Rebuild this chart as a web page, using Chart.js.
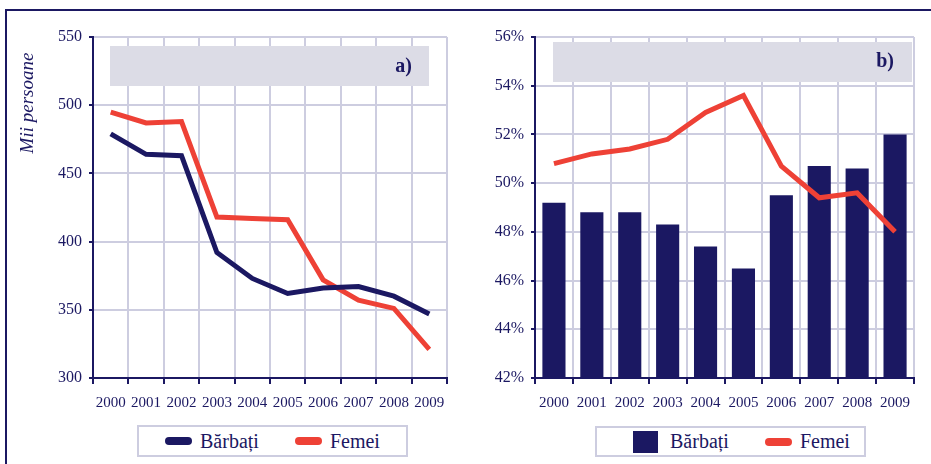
<!DOCTYPE html>
<html>
<head>
<meta charset="utf-8">
<script src="https://cdn.jsdelivr.net/npm/chart.js@4/dist/chart.umd.min.js"></script>
<style>
    body { margin: 0; background: #fff; width: 931px; height: 464px; overflow: hidden; position: relative; }
    .frame { position: absolute; left: 5px; top: 9px; right: 0; bottom: 0; border-top: 2px solid #1b1862; border-left: 2px solid #1b1862; }
    canvas { position: absolute; top: 0; }
    #chart-a { left: 0; }
    #chart-b { left: 465px; }
    .legend {
        position: absolute; box-sizing: border-box; border: 2px solid #cdcde0;
        display: flex; align-items: center;
        font: 20px "Liberation Serif", "DejaVu Serif", serif; color: #1b1862;
    }
    .legend-item { display: flex; align-items: center; margin-right: 36px; }
    .swatch-line { width: 27px; height: 8px; border-radius: 4px; margin-right: 8px; }
    .swatch-box { width: 25px; height: 22px; margin-right: 12px; }
    #legend-a { left: 137px; top: 425px; width: 271px; height: 32px; padding-left: 26px; }
    #legend-b { left: 595px; top: 426px; width: 271px; height: 31px; padding-left: 36px; }
</style>
</head>
<body>
<div class="frame"></div>
<canvas id="chart-a" width="465" height="420"></canvas>
<canvas id="chart-b" width="466" height="420"></canvas>
<div class="legend" id="legend-a"></div>
<div class="legend" id="legend-b"></div>
<script>
/* Ocupare 2000-2009: a) mii persoane, b) pondere pe sexe */

const years = ['2000', '2001', '2002', '2003', '2004', '2005', '2006', '2007', '2008', '2009'];

// a) Mii persoane
const menCount   = [479, 464, 463, 392, 373, 362, 366, 367, 360, 347];
const womenCount = [495, 487, 488, 418, 417, 416, 372, 357, 351, 321];
const countTicks = { min: 300, max: 550, step: 50 };

// b) procente
const menShare   = [49.2, 48.8, 48.8, 48.3, 47.4, 46.5, 49.5, 50.7, 50.6, 52.0];
const womenShare = [50.8, 51.2, 51.4, 51.8, 52.9, 53.6, 50.7, 49.4, 49.6, 48.0];
const shareTicks = { min: 42, max: 56, step: 2 };

const seriesNames = ['Bărbați', 'Femei'];
const yTitle = 'Mii persoane';

const NAVY = '#1b1862';
const RED = '#ee4136';
const GRID = '#cdcde0';
const BAND = '#dcdce6';
const NONE = 'rgba(0,0,0,0)';
const FONT = '"Liberation Serif", "DejaVu Serif", serif';

Chart.defaults.font.family = FONT;
Chart.defaults.color = NAVY;

// grey band with the panel letter + optional rotated axis title
const panelPlugin = {
    id: 'panel',
    beforeDatasetsDraw(chart, args, opts) {
        const a = chart.chartArea;
        const ctx = chart.ctx;
        ctx.save();
        ctx.fillStyle = BAND;
        ctx.fillRect(a.left + opts.band[0], a.top + opts.band[1], opts.band[2], opts.band[3]);
        ctx.fillStyle = NAVY;
        ctx.font = 'bold 20px ' + FONT;
        ctx.textAlign = 'right';
        ctx.textBaseline = 'middle';
        ctx.fillText(opts.letter, a.right - opts.letterRight, a.top + opts.letterY);
        ctx.restore();
    },
    afterDraw(chart, args, opts) {
        if (!opts.title) return;
        const a = chart.chartArea;
        const ctx = chart.ctx;
        ctx.save();
        ctx.translate(a.left - 65, a.top + 66);
        ctx.rotate(-Math.PI / 2);
        ctx.fillStyle = NAVY;
        ctx.font = 'italic 19px ' + FONT;
        ctx.textAlign = 'center';
        ctx.textBaseline = 'middle';
        ctx.fillText(opts.title, 0, 0);
        ctx.restore();
    }
};

function xScale(height, pad) {
    return {
        offset: true,
        grid: {
            offset: true,
            color: c => c.index === 0 ? NONE : GRID,
            lineWidth: 2,
            tickColor: NAVY,
            tickLength: 6,
            tickWidth: 2,
        },
        border: { color: NAVY, width: 2 },
        ticks: { font: { size: 15 }, padding: pad, maxRotation: 0, autoSkip: false },
        afterFit: s => { s.height = height; },
    };
}

function yScale(t, width, fmt) {
    return {
        min: t.min,
        max: t.max,
        grid: {
            color: c => c.tick && c.tick.value === t.min ? NONE : GRID,
            lineWidth: 2,
            tickColor: NAVY,
            tickLength: 4,
            tickWidth: 2,
        },
        border: { color: NAVY, width: 2 },
        ticks: { stepSize: t.step, font: { size: 16 }, padding: 7, callback: fmt },
        afterFit: s => { s.width = width; },
    };
}

const chartA = new Chart(document.getElementById('chart-a'), {
    type: 'line',
    data: {
        labels: years,
        datasets: [
            { label: seriesNames[0], data: menCount, borderColor: NAVY, backgroundColor: NAVY, borderWidth: 5, pointRadius: 0, tension: 0 },
            { label: seriesNames[1], data: womenCount, borderColor: RED, backgroundColor: RED, borderWidth: 5, pointRadius: 0, tension: 0 },
        ],
    },
    options: {
        responsive: false,
        animation: false,
        layout: { padding: { top: 37, right: 18, left: 0, bottom: 0 } },
        plugins: {
            legend: { display: false },
            tooltip: { enabled: false },
            panel: { band: [17, 9, 319, 40], letter: 'a)', letterRight: 35, letterY: 30, title: yTitle },
        },
        scales: {
            x: xScale(42, 10),
            y: yScale(countTicks, 93, v => v),
        },
    },
    plugins: [panelPlugin],
});

const chartB = new Chart(document.getElementById('chart-b'), {
    type: 'bar',
    data: {
        labels: years,
        datasets: [
            { type: 'bar', label: seriesNames[0], data: menShare, backgroundColor: NAVY, barPercentage: 0.61, categoryPercentage: 1, order: 2 },
            { type: 'line', label: seriesNames[1], data: womenShare, borderColor: RED, backgroundColor: RED, borderWidth: 5, pointRadius: 0, tension: 0, order: 1 },
        ],
    },
    options: {
        responsive: false,
        animation: false,
        layout: { padding: { top: 37, right: 17, left: 0, bottom: 0 } },
        plugins: {
            legend: { display: false },
            tooltip: { enabled: false },
            panel: { band: [18, 5, 359, 40], letter: 'b)', letterRight: 20, letterY: 25 },
        },
        scales: {
            x: xScale(42, 10),
            y: yScale(shareTicks, 70, v => v + '%'),
        },
    },
    plugins: [panelPlugin],
});

function renderLegend(chart, elId) {
    const el = document.getElementById(elId);
    el.innerHTML = '';
    chart.data.datasets.forEach(ds => {
        const isBar = (ds.type || chart.config.type) === 'bar';
        const item = document.createElement('div');
        item.className = 'legend-item';
        item.innerHTML = `
            <span class="${isBar ? 'swatch-box' : 'swatch-line'}" style="background:${ds.backgroundColor}"></span>
            <span>${ds.label}</span>
        `;
        el.appendChild(item);
    });
}

renderLegend(chartA, 'legend-a');
renderLegend(chartB, 'legend-b');
</script>
</body>
</html>
